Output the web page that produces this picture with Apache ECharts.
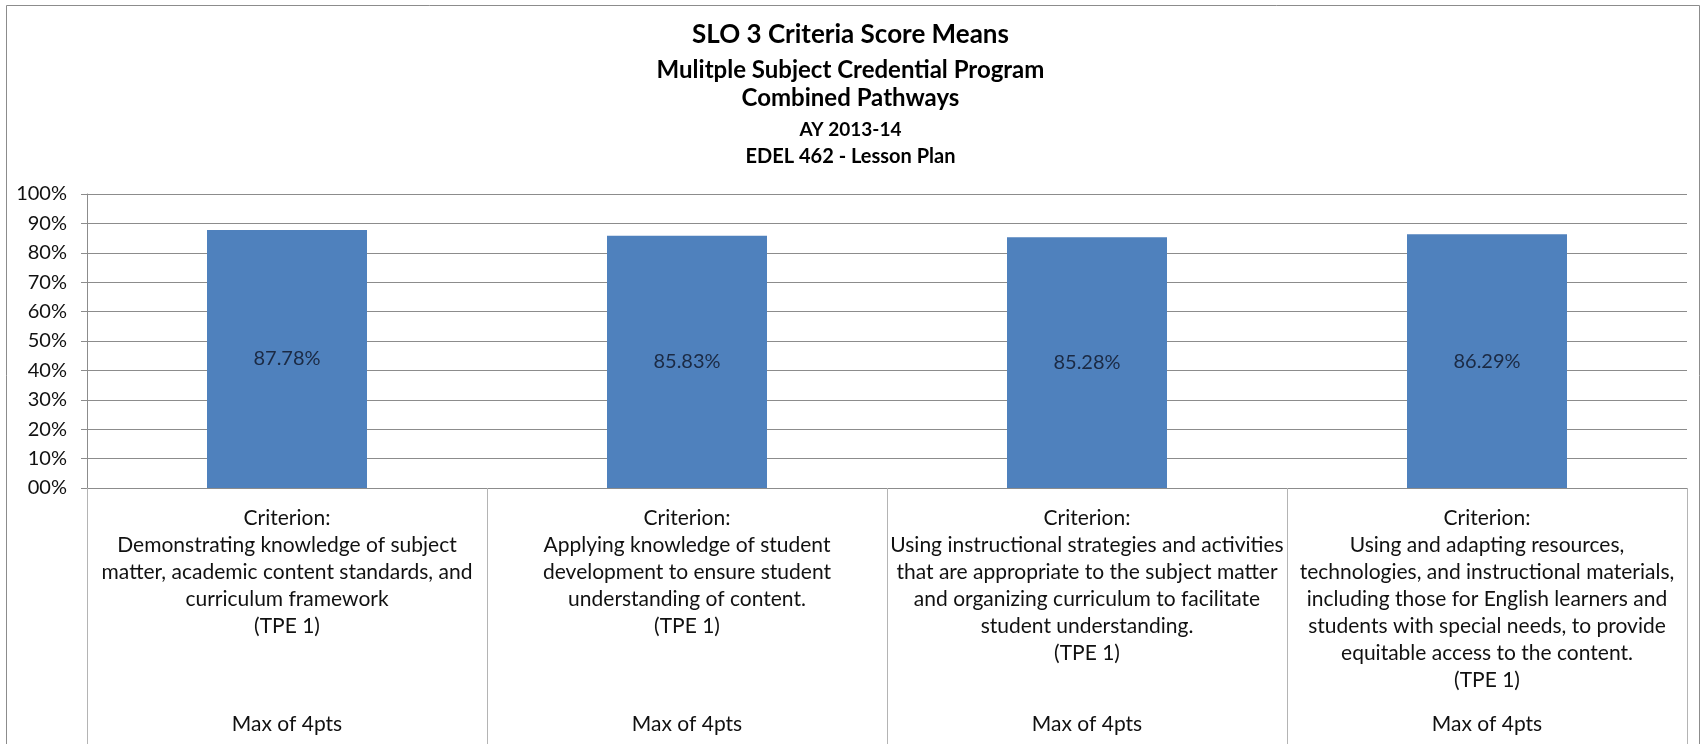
<!DOCTYPE html>
<html>
<head>
<meta charset="utf-8">
<title>SLO 3 Criteria Score Means</title>
<script src="https://cdn.jsdelivr.net/npm/echarts@6/dist/echarts.min.js"></script>
<style>
    html, body {
        margin: 0;
        padding: 0;
        background: #fff;
    }
    #chart {
        width: 1701px;
        height: 744px;
    }
</style>
</head>
<body>
<div id="chart"></div>
<script>
    // data
    var titleLines = [
        'SLO 3 Criteria Score Means',
        'Mulitple Subject Credential Program',
        'Combined Pathways',
        'AY 2013-14',
        'EDEL 462 - Lesson Plan'
    ];
    var criteria = [
        'Criterion:\nDemonstrating knowledge of subject\nmatter, academic content standards, and\ncurriculum framework\n(TPE 1)',
        'Criterion:\nApplying knowledge of student\ndevelopment to ensure student\nunderstanding of content.\n(TPE 1)',
        'Criterion:\nUsing instructional strategies and activities\nthat are appropriate to the subject matter\nand organizing curriculum to facilitate\nstudent understanding.\n(TPE 1)',
        'Criterion:\nUsing and adapting resources,\ntechnologies, and instructional materials,\nincluding those for English learners and\nstudents with special needs, to provide\nequitable access to the content.\n(TPE 1)'
    ];
    var maxLabels = ['Max of 4pts', 'Max of 4pts', 'Max of 4pts', 'Max of 4pts'];
    var scoreMeans = [87.78, 85.83, 85.28, 86.29];

    var font = 'Lato, "Open Sans", sans-serif';
    var titleTops = [17, 53, 81, 115, 142];
    var titleSizes = [26, 24, 24, 19, 20];

    var myChart = echarts.init(document.getElementById('chart'));

    var titles = titleLines.map(function (t, i) {
        return {
            text: t,
            left: 'center',
            top: titleTops[i],
            textStyle: {
                fontFamily: font,
                fontWeight: 'bold',
                fontSize: titleSizes[i],
                color: '#000'
            }
        };
    });

    myChart.setOption({
        backgroundColor: '#fff',
        animation: false,
        title: titles,
        graphic: [{
            // outer chart frame
            type: 'rect',
            shape: { x: 6.5, y: 5.5, width: 1693, height: 800 },
            style: { fill: 'none', stroke: '#8c8c8c', lineWidth: 1 },
            silent: true
        }],
        grid: {
            left: 87,
            right: 14,
            top: 194,
            bottom: 256,
            containLabel: false
        },
        xAxis: [
            {
                type: 'category',
                data: criteria,
                axisLine: { lineStyle: { color: '#8c8c8c' } },
                axisTick: {
                    show: true,
                    length: 260,
                    lineStyle: { color: '#b4b4b4' }
                },
                axisLabel: {
                    interval: 0,
                    margin: 17,
                    fontFamily: font,
                    fontSize: 21,
                    lineHeight: 27,
                    color: '#111'
                }
            },
            {
                type: 'category',
                position: 'bottom',
                offset: 226,
                data: maxLabels,
                axisLine: { show: false },
                axisTick: { show: false },
                axisLabel: {
                    interval: 0,
                    margin: 0,
                    fontFamily: font,
                    fontSize: 21,
                    color: '#111'
                }
            }
        ],
        yAxis: {
            type: 'value',
            min: 0,
            max: 100,
            interval: 10,
            axisLine: { show: true, lineStyle: { color: '#8c8c8c' } },
            axisTick: { show: true, length: 6, lineStyle: { color: '#8c8c8c' } },
            splitLine: { lineStyle: { color: '#8c8c8c' } },
            axisLabel: {
                margin: 20,
                fontFamily: font,
                fontSize: 20,
                color: '#111',
                formatter: function (v) {
                    return (v < 10 ? '0' + v : v) + '%';
                }
            }
        },
        series: [{
            type: 'bar',
            name: 'Score Mean',
            data: scoreMeans,
            barWidth: '40%',
            itemStyle: { color: '#4f81bd' },
            label: {
                show: true,
                position: 'inside',
                fontFamily: font,
                fontSize: 20,
                color: '#1b2a44',
                formatter: function (p) {
                    return p.value.toFixed(2) + '%';
                }
            }
        }]
    });

    window.addEventListener('resize', function () {
        myChart.resize();
    });
</script>
</body>
</html>
